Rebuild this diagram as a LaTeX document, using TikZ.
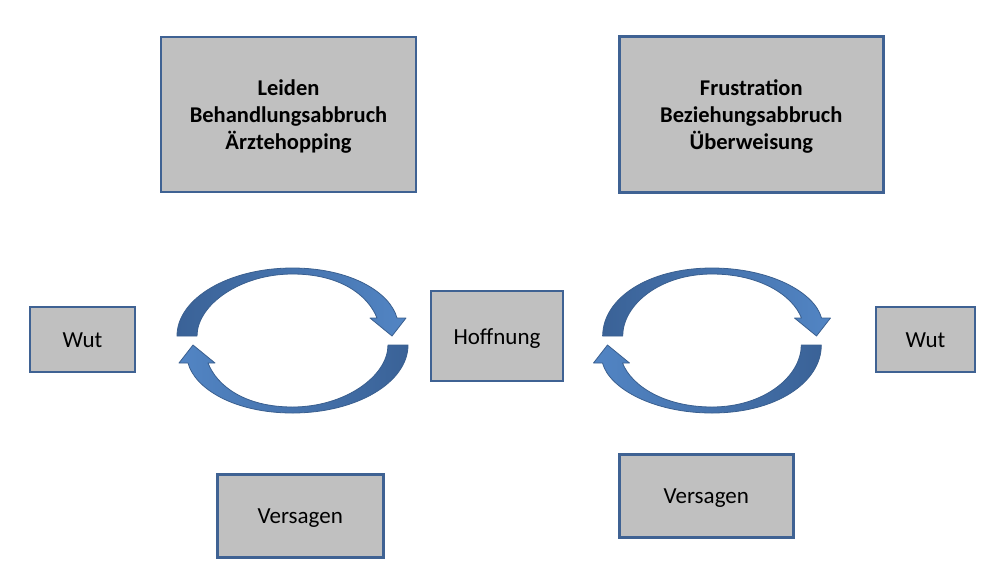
\documentclass[tikz,border=0pt]{standalone}
\usepackage{fontspec}
\setmainfont{Carlito}
\definecolor{boxgray}{HTML}{C0C0C0}
\definecolor{boxborder}{HTML}{3F6293}
\definecolor{arrdark}{HTML}{3A6297}
\definecolor{arrlight}{HTML}{5285C4}
\definecolor{arrline}{HTML}{3A5F8F}
\newcommand{\topstrut}{\rule{0pt}{20pt}}
\newcommand{\linestrut}{\rule[-4pt]{0pt}{24pt}}
\tikzset{
  box/.style={draw=boxborder, line width=2.8pt, fill=boxgray, inner sep=0pt,
    align=center, font=\fontsize{23}{27}\selectfont},
  boldbox/.style={box, font=\fontsize{22.5}{27}\selectfont\bfseries},
  arcshape/.style={draw=arrline, line width=0.8pt, line join=round}
}
% #1 centre x, #2 outer half-width at the cut ends, #3 head offset
\newcommand{\cyclepair}[3]{%
  \begin{scope}[shift={(#1,340.5)}]
    \path[arcshape, left color=arrdark, right color=arrlight]
      ({-#2},-4.5) .. controls ({-#2},-42) and (-64,-72.5) .. (0,-72.5)
      .. controls (57.5,-72.5) and ({97.5+#3},-48.5) .. ({104.5+#3},-22.5)
      -- ({113.5+#3},-22.5) -- ({99.5+#3},-4.5) -- ({77.5+#3},-22.5)
      -- ({84.5+#3},-22.5)
      .. controls ({75.5+#3},-45.5) and (47.5,-66.5) .. (0,-66.5)
      .. controls (-52.5,-66.5) and ({-#2+20},-35.5) .. ({-#2+20},-4.5) -- cycle;
    \path[arcshape, left color=arrlight, right color=arrdark]
      ({#2},4.5) .. controls ({#2},42) and (64,72.5) .. (0,72.5)
      .. controls (-57.5,72.5) and ({-97.5-#3},48.5) .. ({-104.5-#3},22.5)
      -- ({-113.5-#3},22.5) -- ({-99.5-#3},4.5) -- ({-77.5-#3},22.5)
      -- ({-84.5-#3},22.5)
      .. controls ({-75.5-#3},45.5) and (-47.5,66.5) .. (0,66.5)
      .. controls (52.5,66.5) and ({#2-20},35.5) .. ({#2-20},4.5) -- cycle;
  \end{scope}}
\begin{document}
\begin{tikzpicture}[x=1pt,y=-1pt]
\useasboundingbox (0,0) rectangle (992,587);
\node[boldbox, minimum width=255pt, minimum height=155pt] (top1) at (288.5,114.5)
  {\topstrut Leiden\\Behandlungsabbruch\\Ärztehopping};
\node[boldbox, minimum width=264pt, minimum height=156pt] (top2) at (751.3,114.8)
  {\topstrut Frustration\\Beziehungsabbruch\\Überweisung};
\node[box, minimum width=105pt, minimum height=65pt] (wut1) at (82.5,339.5) {\linestrut Wut};
\node[box, minimum width=132pt, minimum height=90pt] (hoff) at (497,336) {\linestrut Hoffnung};
\node[box, minimum width=99pt, minimum height=65pt] (wut2) at (925.5,339.5) {\linestrut Wut};
\node[box, minimum width=166pt, minimum height=83pt] (vers1) at (300.3,515.6) {\linestrut Versagen};
\node[box, minimum width=174pt, minimum height=83pt] (vers2) at (706.3,495.6) {\linestrut Versagen};
\cyclepair{292.5}{115.5}{0}
\cyclepair{712}{109.3}{5}
\end{tikzpicture}
\end{document}
